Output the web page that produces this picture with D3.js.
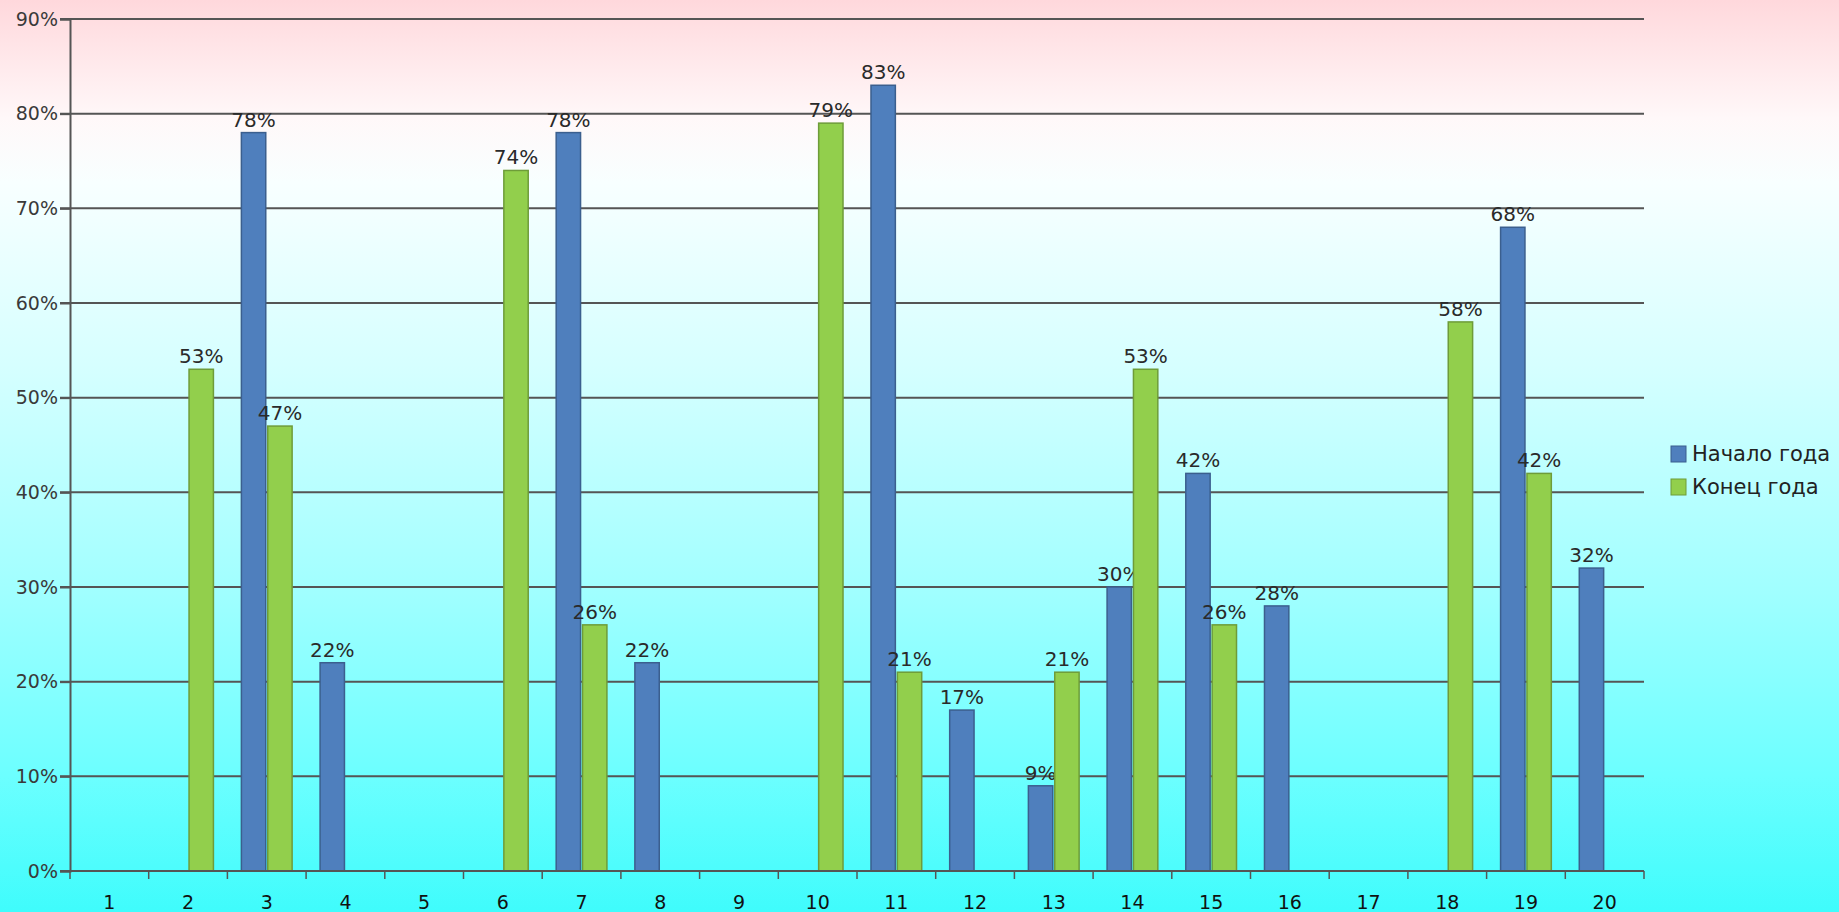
<!DOCTYPE html>
<html>
<head>
<meta charset="utf-8">
<script src="https://cdn.jsdelivr.net/npm/d3@7"></script>
<style>
  body { margin: 0; overflow: hidden; }
  text { font-family: "DejaVu Sans", Verdana, sans-serif; }
</style>
</head>
<body>
<div class="canvas"></div>
<script>
// data
const categories = ['1','2','3','4','5','6','7','8','9','10','11','12','13','14','15','16','17','18','19','20'];
const seriesNames = ['Начало года', 'Конец года'];
const startYear = [null, null, 78, 22, null, null, 78, 22, null, null, 83, 17, 9, 30, 42, 28, null, null, 68, 32];
const endYear   = [null, 53, 47, null, null, 74, 26, null, null, 79, 21, null, 21, 53, 26, null, null, 58, 42, null];
const yTicks = [0, 10, 20, 30, 40, 50, 60, 70, 80, 90];
const colors = ['#4f7fbd', '#92cf4c'];

const width = 1839, height = 912;

const svg = d3.select('.canvas')
    .append('svg')
        .attr('width', width)
        .attr('height', height);

// background gradient pink -> white -> cyan
const defs = svg.append('defs');
const bg = defs.append('linearGradient')
    .attr('id', 'bg')
    .attr('x1', 0).attr('y1', 0).attr('x2', 0).attr('y2', 1);
[[0, '#ffd8dc'], [0.13, '#fff8f9'], [0.2, '#f8ffff'], [0.4, '#d6ffff'], [0.65, '#a0ffff'], [0.85, '#6cffff'], [1, '#3ffcfc']]
    .forEach(s => bg.append('stop').attr('offset', s[0]).attr('stop-color', s[1]));
svg.append('rect').attr('width', width).attr('height', height).attr('fill', 'url(#bg)');

const margin = {top: 19, right: 195, bottom: 41, left: 70};
const graphWidth = width - margin.left - margin.right;
const graphHeight = height - margin.top - margin.bottom;

const graph = svg.append('g')
    .attr('transform', `translate(${margin.left}, ${margin.top})`);

const y = d3.scaleLinear()
    .domain([0, 90])
    .range([graphHeight, 0]);

const x = d3.scaleBand()
    .domain(categories)
    .range([0, graphWidth])
    .paddingInner(0.33)
    .paddingOuter(0.165);

const xs = d3.scaleBand()
    .domain(seriesNames)
    .range([0, x.bandwidth()]);

// gridlines
graph.append('g')
    .selectAll('line')
    .data(yTicks.filter(d => d > 0))
    .enter()
    .append('line')
        .attr('x1', -10)
        .attr('x2', graphWidth)
        .attr('y1', d => y(d))
        .attr('y2', d => y(d))
        .attr('stroke', '#555')
        .attr('stroke-width', 2);

// y axis
const yAxis = d3.axisLeft(y)
    .tickValues(yTicks)
    .tickSize(10)
    .tickFormat(d => d + '%');
const yAxisGroup = graph.append('g').call(yAxis);
yAxisGroup.select('.domain').attr('stroke', '#555').attr('stroke-width', 2);
yAxisGroup.selectAll('.tick line').attr('stroke', '#555').attr('stroke-width', 2);
yAxisGroup.selectAll('text')
    .attr('x', -12)
    .attr('font-size', 19)
    .attr('fill', '#3a3a3a');

// bars
const series = [startYear, endYear];
series.forEach((vals, si) => {
    const data = categories.map((c, i) => ({cat: c, v: vals[i]})).filter(d => d.v !== null);
    const g = graph.append('g');
    g.selectAll('rect')
        .data(data)
        .enter()
        .append('rect')
            .attr('x', d => x(d.cat) + xs(seriesNames[si]) + 1)
            .attr('y', d => y(d.v))
            .attr('width', xs.bandwidth() - 2)
            .attr('height', d => graphHeight - y(d.v))
            .attr('fill', colors[si])
            .attr('stroke', d3.color(colors[si]).darker(0.8))
            .attr('stroke-width', 1.5);
    g.selectAll('text')
        .data(data)
        .enter()
        .append('text')
            .attr('x', d => x(d.cat) + xs(seriesNames[si]) + xs.bandwidth() / 2)
            .attr('y', d => y(d.v) - 6)
            .attr('text-anchor', 'middle')
            .attr('font-size', 20)
            .attr('fill', '#2a2a2a')
            .text(d => d.v + '%');
});

// x axis with ticks between categories
const xAxisGroup = graph.append('g')
    .attr('transform', `translate(0, ${graphHeight})`);
xAxisGroup.append('line')
    .attr('x1', -10).attr('x2', graphWidth)
    .attr('stroke', '#555').attr('stroke-width', 2);
xAxisGroup.selectAll('line.tk')
    .data(d3.range(categories.length + 1))
    .enter()
    .append('line')
        .attr('class', 'tk')
        .attr('x1', i => i * x.step())
        .attr('x2', i => i * x.step())
        .attr('y1', 0).attr('y2', 8)
        .attr('stroke', '#555').attr('stroke-width', 1.5);
xAxisGroup.selectAll('text')
    .data(categories)
    .enter()
    .append('text')
        .attr('x', d => x(d) + x.bandwidth() / 2)
        .attr('y', 38)
        .attr('text-anchor', 'middle')
        .attr('font-size', 19)
        .attr('fill', '#111')
        .text(d => d);

// legend
const legend = svg.append('g')
    .attr('transform', 'translate(1671, 446)');
seriesNames.forEach((name, i) => {
    legend.append('rect')
        .attr('x', 0).attr('y', i * 33)
        .attr('width', 15).attr('height', 16)
        .attr('fill', colors[i])
        .attr('stroke', d3.color(colors[i]).darker(0.8));
    legend.append('text')
        .attr('x', 21).attr('y', i * 33 + 15)
        .attr('font-size', 21)
        .attr('fill', '#222')
        .text(name);
});
</script>
</body>
</html>
